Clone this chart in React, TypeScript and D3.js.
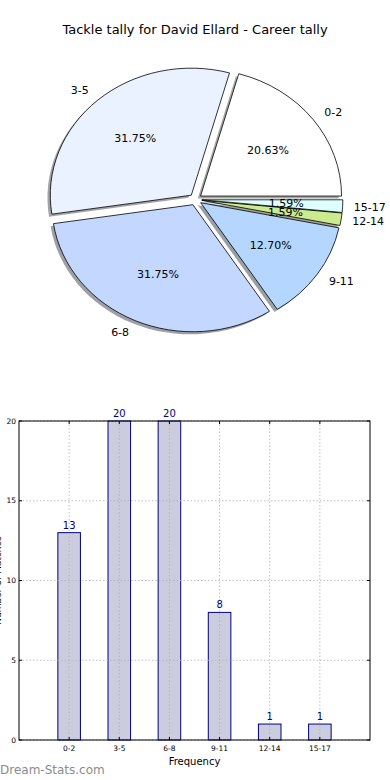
import * as d3 from "d3";

const categories = ["0-2", "3-5", "6-8", "9-11", "12-14", "15-17"];
const counts = [13, 20, 20, 8, 1, 1];
const pieColors = ["#ffffff", "#eaf1ff", "#c4d8ff", "#b4d6ff", "#cceb8f", "#ddffff"];
const yTicks = [0, 5, 10, 15, 20];

const FONT = "DejaVu Sans, Verdana, sans-serif";

function shadowColor(c: string) {
	const rgb = d3.rgb(c);
	return d3.rgb(rgb.r * 0.3, rgb.g * 0.3, rgb.b * 0.3).toString();
}

function PieChart() {
	const cx = 195.5;
	const cy = 199.5;
	const rx = 141;
	const ry = 127;
	const explode = 0.045;
	const total = d3.sum(counts);

	// matplotlib style: start at 3 o'clock, counterclockwise
	const pie = d3
		.pie<number>()
		.sort(null)
		.startAngle(Math.PI / 2)
		.endAngle(Math.PI / 2 - 2 * Math.PI);
	const arcs = pie(counts);
	const arc = d3.arc<d3.PieArcDatum<number>>().innerRadius(0).outerRadius(1);

	const items = arcs.map((a, i) => {
		const mid = Math.PI / 2 - (a.startAngle + a.endAngle) / 2; // math angle
		const ox = cx + explode * rx * Math.cos(mid);
		const oy = cy - explode * ry * Math.sin(mid);
		return { a, i, mid, ox, oy };
	});

	return (
		<g>
			<text
				x={195}
				y={34}
				textAnchor="middle"
				fontSize={13}
				fontFamily={FONT}
				fill="#000"
			>
				Tackle tally for David Ellard - Career tally
			</text>
			{items.map(({ a, i, ox, oy }) => (
				<path
					key={`s${i}`}
					d={arc(a) ?? ""}
					transform={`translate(${ox - 0.02 * rx},${oy + 0.02 * ry}) scale(${rx},${ry})`}
					fill={shadowColor(pieColors[i])}
					fillOpacity={0.5}
				/>
			))}
			{items.map(({ a, i, ox, oy }) => (
				<path
					key={`w${i}`}
					d={arc(a) ?? ""}
					transform={`translate(${ox},${oy}) scale(${rx},${ry})`}
					fill={pieColors[i]}
					stroke="#000"
					strokeWidth={0.8}
					vectorEffect="non-scaling-stroke"
				/>
			))}
			{items.map(({ a, i, mid, ox, oy }) => {
				const lx = ox + 1.1 * rx * Math.cos(mid);
				const ly = oy - 1.1 * ry * Math.sin(mid);
				const px = ox + 0.6 * rx * Math.cos(mid);
				const py = oy - 0.6 * ry * Math.sin(mid);
				const pct = ((a.data / total) * 100).toFixed(2) + "%";
				return (
					<g key={`l${i}`} fontFamily={FONT} fontSize={11} fill="#000">
						<text
							x={lx - (Math.cos(mid) > 0.95 ? 3 : 0)}
							y={ly}
							dy="0.35em"
							textAnchor={Math.cos(mid) > 0 ? "start" : "end"}
						>
							{categories[i]}
						</text>
						<text x={px} y={py} dy="0.35em" textAnchor="middle">
							{pct}
						</text>
					</g>
				);
			})}
		</g>
	);
}

function BarChart() {
	const left = 19;
	const right = 370;
	const top = 421;
	const bottom = 740;

	const x = d3.scaleLinear().domain([-1, 6]).range([left, right]);
	const y = d3.scaleLinear().domain([0, 20]).range([bottom, top]);
	const barW = x(0.45) - x(0);

	return (
		<g fontFamily={FONT}>
			{counts.map((c, i) => (
				<rect
					key={`b${i}`}
					x={x(i) - barW / 2}
					y={y(c)}
					width={barW}
					height={bottom - y(c)}
					fill="#ccccdf"
					stroke="#000080"
					strokeWidth={1}
				/>
			))}
			{/* grid */}
			{categories.map((_, i) => (
				<line
					key={`gx${i}`}
					x1={x(i)}
					x2={x(i)}
					y1={top}
					y2={bottom}
					stroke="#b0b0b0"
					strokeWidth={0.8}
					strokeDasharray="1.5,2"
				/>
			))}
			{yTicks.map((t) => (
				<line
					key={`gy${t}`}
					x1={left}
					x2={right}
					y1={y(t)}
					y2={y(t)}
					stroke="#b0b0b0"
					strokeWidth={0.8}
					strokeDasharray="1.5,2"
				/>
			))}
			<rect
				x={left}
				y={top}
				width={right - left}
				height={bottom - top}
				fill="none"
				stroke="#000"
				strokeWidth={1}
			/>
			{yTicks.map((t) => (
				<g key={`yt${t}`}>
					<line x1={left} x2={left + 3} y1={y(t)} y2={y(t)} stroke="#000" />
					<line x1={right} x2={right - 3} y1={y(t)} y2={y(t)} stroke="#000" />
					<text
						x={left - 3}
						y={y(t)}
						dy="0.35em"
						textAnchor="end"
						fontSize={7.5}
						fill="#000"
					>
						{t}
					</text>
				</g>
			))}
			{categories.map((c, i) => (
				<g key={`xt${i}`}>
					<line x1={x(i)} x2={x(i)} y1={bottom} y2={bottom - 3} stroke="#000" />
					<line x1={x(i)} x2={x(i)} y1={top} y2={top + 3} stroke="#000" />
					<text
						x={x(i)}
						y={bottom + 11}
						textAnchor="middle"
						fontSize={7.5}
						fill="#000"
					>
						{c}
					</text>
				</g>
			))}
			{counts.map((c, i) => (
				<text
					key={`v${i}`}
					x={x(i)}
					y={y(c) - 4}
					textAnchor="middle"
					fontSize={10}
					fill="#000080"
				>
					{c}
				</text>
			))}
			<text
				x={(left + right) / 2}
				y={765}
				textAnchor="middle"
				fontSize={10}
				fill="#000"
			>
				Frequency
			</text>
			<text
				transform={`translate(1,${(top + bottom) / 2}) rotate(-90)`}
				textAnchor="middle"
				fontSize={9}
				fill="#000"
			>
				Number of Matches
			</text>
		</g>
	);
}

export default function App() {
	return (
		<svg
			width={390}
			height={780}
			style={{ position: "absolute", left: 0, top: 0, background: "#fff" }}
		>
			<rect width={390} height={780} fill="#fff" />
			<PieChart />
			<BarChart />
			<text
				x={0}
				y={774}
				fontFamily={FONT}
				fontSize={12}
				fill="#8c8c8c"
			>
				Dream-Stats.com
			</text>
		</svg>
	);
}
